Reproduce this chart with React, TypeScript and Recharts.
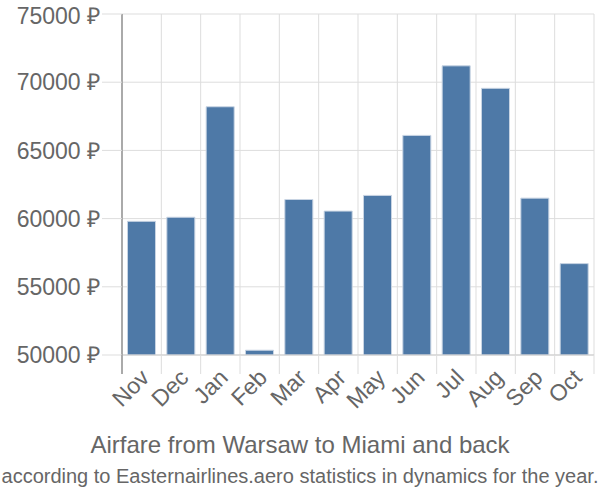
import { BarChart, Bar, XAxis, YAxis, CartesianGrid } from 'recharts'

const months = ['Nov', 'Dec', 'Jan', 'Feb', 'Mar', 'Apr', 'May', 'Jun', 'Jul', 'Aug', 'Sep', 'Oct']
const prices = [59800, 60100, 68200, 50350, 61400, 60550, 61700, 66100, 71200, 69550, 61500, 56700]
const yTicks = [50000, 55000, 60000, 65000, 70000, 75000]

const data = months.map((m, i) => ({ month: m, price: prices[i] }))

const font = '"Liberation Sans", Arial, sans-serif'

// month label + the boundary tick marks that hang below the baseline
function MonthTick(props: any) {
  const { x, y, payload, index } = props
  const half = payload.offset || 0
  const last = index === months.length - 1
  return (
    <g>
      <line x1={x - half} y1={y} x2={x - half} y2={y + 19} stroke={index === 0 ? '#aaaaaa' : '#dddddd'} strokeWidth={index === 0 ? 2 : 1} />
      {last && <line x1={x + half} y1={y} x2={x + half} y2={y + 19} stroke="#dddddd" />}
      <text
        x={x + 9}
        y={y + 24}
        transform={`rotate(-45, ${x + 9}, ${y + 24})`}
        textAnchor="end"
        fill="#666666"
        fontSize={23}
        fontFamily={font}
      >
        {payload.value}
      </text>
    </g>
  )
}

export default function App() {
  return (
    <div style={{ position: 'absolute', left: 0, top: 0, width: 600, height: 500, fontFamily: font }}>
      <BarChart
        width={600}
        height={500}
        data={data}
        margin={{ top: 14, right: 6, left: 0, bottom: 0 }}
        barCategoryGap="14%"
      >
        <CartesianGrid
          stroke="#dddddd"
          verticalCoordinatesGenerator={({ offset }: any) =>
            months.map((_, i) => i).concat(months.length).map((i) => offset.left + (i * offset.width) / months.length)
          }
        />
        <XAxis
          dataKey="month"
          height={145}
          axisLine={{ stroke: '#cccccc' }}
          tickLine={false}
          tickSize={0}
          tickMargin={0}
          interval={0}
          tick={<MonthTick />}
        />
        <YAxis
          domain={[50000, 75000]}
          ticks={yTicks}
          width={122}
          tickSize={20}
          tickLine={{ stroke: '#dddddd' }}
          axisLine={{ stroke: '#aaaaaa', strokeWidth: 2 }}
          tickFormatter={(v: number) => `${v} ₽`}
          tick={{ fill: '#666666', fontSize: 23, fontFamily: font }}
          allowDataOverflow
        />
        <Bar
          dataKey="price"
          fill="#4e79a7"
          stroke="#c8d4e3"
          strokeWidth={1}
          isAnimationActive={false}
        />
      </BarChart>
      <div style={{ position: 'absolute', left: 0, top: 431, width: 600, textAlign: 'center', fontSize: 24, color: '#666666' }}>
        Airfare from Warsaw to Miami and back
      </div>
      <div style={{ position: 'absolute', left: 0, top: 465, width: 600, textAlign: 'center', fontSize: 20, color: '#666666', whiteSpace: 'nowrap' }}>
        according to Easternairlines.aero statistics in dynamics for the year.
      </div>
    </div>
  )
}
